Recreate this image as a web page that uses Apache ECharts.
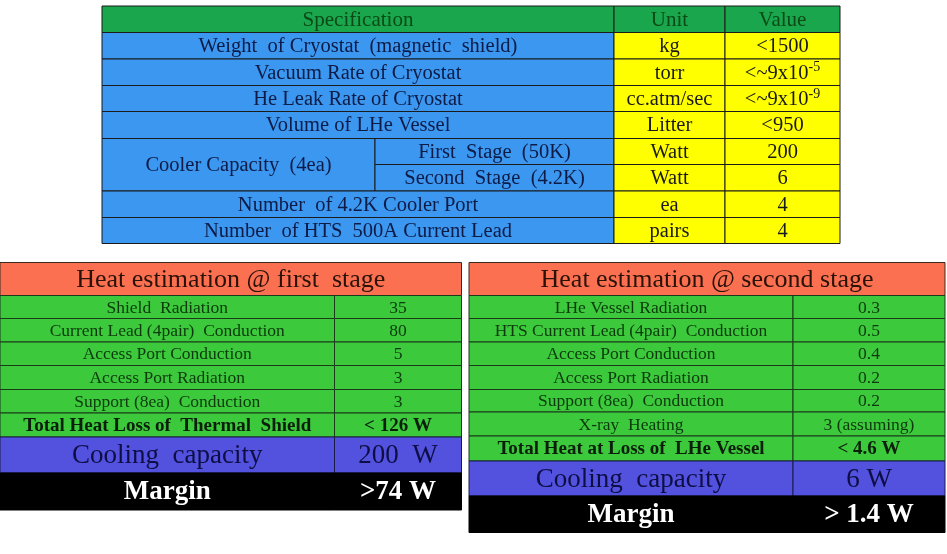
<!DOCTYPE html>
<html>
<head>
<meta charset="utf-8">
<script src="https://cdn.jsdelivr.net/npm/echarts@6/dist/echarts.min.js"></script>
<style>
html, body { margin: 0; padding: 0; background: #fff; }
#main { width: 947px; height: 554px; }
</style>
</head>
<body>
<div id="main"></div>
<script>
// ---- spec table ----
var specHeader = ["Specification", "Unit", "Value"];
var specNames = ["Weight  of Cryostat  (magnetic  shield)", "Vacuum Rate of Cryostat", "He Leak Rate of Cryostat",
  "Volume of LHe Vessel", "Cooler Capacity  (4ea)", "Number  of 4.2K Cooler Port", "Number  of HTS  500A Current Lead"];
var coolerStages = ["First  Stage  (50K)", "Second  Stage  (4.2K)"];
var specUnits = ["kg", "torr", "cc.atm/sec", "Litter", "Watt", "Watt", "ea", "pairs"];
var specValues = ["<1500", "<~9x10^-5", "<~9x10^-9", "<950", "200", "6", "4", "4"];

// ---- heat estimation @ first stage ----
var firstTitle = "Heat estimation @ first  stage";
var firstItems = ["Shield  Radiation", "Current Lead (4pair)  Conduction", "Access Port Conduction", "Access Port Radiation", "Support (8ea)  Conduction"];
var firstValues = ["35", "80", "5", "3", "3"];
var firstTotal = ["Total Heat Loss of  Thermal  Shield", "< 126 W"];
var firstCooling = ["Cooling  capacity", "200  W"];
var firstMargin = ["Margin", ">74 W"];

// ---- heat estimation @ second stage ----
var secondTitle = "Heat estimation @ second stage";
var secondItems = ["LHe Vessel Radiation", "HTS Current Lead (4pair)  Conduction", "Access Port Conduction", "Access Port Radiation", "Support (8ea)  Conduction", "X-ray  Heating"];
var secondValues = ["0.3", "0.5", "0.4", "0.2", "0.2", "3 (assuming)"];
var secondTotal = ["Total Heat at Loss of  LHe Vessel", "< 4.6 W"];
var secondCooling = ["Cooling  capacity", "6 W"];
var secondMargin = ["Margin", "> 1.4 W"];

var FONT = '"Liberation Serif", "Times New Roman", serif';
var cells = [];
function cell(x0, y0, x1, y1, fill, text, size, color, bold, stroke) {
  cells.push({x0: x0, y0: y0, x1: x1, y1: y1, fill: fill, text: text, size: size, color: color, bold: bold, stroke: stroke || '#1b1b1b'});
}

// layout of the spec table
(function () {
  var cols = [102, 375, 614, 725, 840];
  var rows = [6, 32.5, 59, 85.5, 111.5, 138.5, 164.5, 191, 217.5, 243.5];
  var G = '#1aa64c', B = '#3b97ef', Y = '#ffff00';
  cell(cols[0], rows[0], cols[2], rows[1], G, specHeader[0], 21, '#0b4a16');
  cell(cols[2], rows[0], cols[3], rows[1], G, specHeader[1], 21, '#0b4a16');
  cell(cols[3], rows[0], cols[4], rows[1], G, specHeader[2], 21, '#0b4a16');
  var r = 1;
  specNames.forEach(function (name, i) {
    if (i === 4) {
      cell(cols[0], rows[r], cols[1], rows[r + 2], B, name, 20.5, '#0d1b46');
      coolerStages.forEach(function (s, k) {
        cell(cols[1], rows[r + k], cols[2], rows[r + k + 1], B, s, 20.5, '#0d1b46');
      });
      r += 2;
    } else {
      cell(cols[0], rows[r], cols[2], rows[r + 1], B, name, 20.5, '#0d1b46');
      r += 1;
    }
  });
  specUnits.forEach(function (u, i) {
    cell(cols[2], rows[i + 1], cols[3], rows[i + 2], Y, u, 20.5, '#1a1a1a');
    cell(cols[3], rows[i + 1], cols[4], rows[i + 2], Y, specValues[i], 20.5, '#1a1a1a');
  });
})();

// layout of a heat table
function heatTable(cols, rows, title, items, values, total, cooling, margin) {
  var O = '#fb7050', GR = '#3cc93c', P = '#5252df', K = '#000000';
  cell(cols[0], rows[0], cols[2], rows[1], O, title, 26, '#2a1208', false, '#3a2a20');
  var r = 1;
  items.forEach(function (it, i) {
    cell(cols[0], rows[r], cols[1], rows[r + 1], GR, it, 17.5, '#0c3a0c', false, '#1a3a1a');
    cell(cols[1], rows[r], cols[2], rows[r + 1], GR, values[i], 17.5, '#0c3a0c', false, '#1a3a1a');
    r++;
  });
  cell(cols[0], rows[r], cols[1], rows[r + 1], GR, total[0], 19, '#0a1f0a', true, '#1a3a1a');
  cell(cols[1], rows[r], cols[2], rows[r + 1], GR, total[1], 19, '#0a1f0a', true, '#1a3a1a');
  r++;
  cell(cols[0], rows[r], cols[1], rows[r + 1], P, cooling[0], 27, '#0e0e45', false, '#1a1a4a');
  cell(cols[1], rows[r], cols[2], rows[r + 1], P, cooling[1], 27, '#0e0e45', false, '#1a1a4a');
  r++;
  cell(cols[0], rows[r], cols[1], rows[r + 1], K, margin[0], 27, '#ffffff', true, '#000');
  cell(cols[1], rows[r], cols[2], rows[r + 1], K, margin[1], 27, '#ffffff', true, '#000');
}
heatTable([0, 334.5, 461.5], [262.5, 295.5, 318.5, 342, 365.5, 389.5, 413, 437, 473, 510],
  firstTitle, firstItems, firstValues, firstTotal, firstCooling, firstMargin);
heatTable([469, 793, 945], [262.5, 295.5, 318.5, 342, 365.5, 389.5, 412, 436, 461, 496, 532.5],
  secondTitle, secondItems, secondValues, secondTotal, secondCooling, secondMargin);

function richText(c) {
  var m = /^(.*)\^(.*)$/.exec(c.text);
  if (m) return '{b|' + m[1] + '}{s|' + m[2] + '}';
  return '{b|' + c.text + '}';
}

var myChart = echarts.init(document.getElementById('main'));
var option = {
  animation: false,
  grid: {left: 0, right: 0, top: 0, bottom: 0},
  xAxis: {type: 'value', min: 0, max: 947, show: false},
  yAxis: {type: 'value', min: 0, max: 554, inverse: true, show: false},
  series: [{
    type: 'custom',
    clip: false,
    data: cells.map(function (c, i) { return [c.x0, c.y0, c.x1, c.y1, i]; }),
    renderItem: function (params, api) {
      var c = cells[api.value(4)];
      var p0 = api.coord([api.value(0), api.value(1)]);
      var p1 = api.coord([api.value(2), api.value(3)]);
      var w = c.bold ? 'bold ' : '';
      return {
        type: 'rect',
        shape: {x: p0[0], y: p0[1], width: p1[0] - p0[0], height: p1[1] - p0[1]},
        style: {fill: c.fill, stroke: c.stroke, lineWidth: 1},
        textContent: {
          style: {
            text: richText(c),
            rich: {
              b: {font: w + c.size + 'px ' + FONT, fill: c.color},
              s: {font: w + Math.round(c.size * 0.68) + 'px ' + FONT, fill: c.color, verticalAlign: 'top', padding: [0, 0, 11, 0]}
            }
          }
        },
        textConfig: {position: 'inside', offset: [0, 1]}
      };
    }
  }]
};
myChart.setOption(option);
</script>
</body>
</html>
